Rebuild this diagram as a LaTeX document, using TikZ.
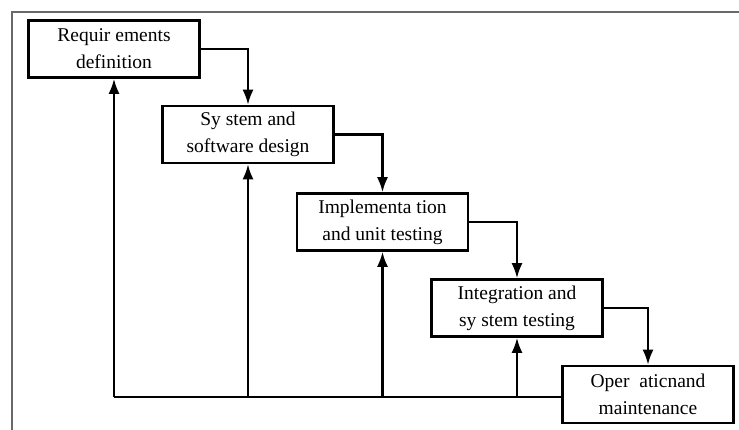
\documentclass[tikz,border=0pt]{standalone}
\usepackage{fontspec}
\setmainfont{Liberation Serif}
\usetikzlibrary{arrows.meta}
\definecolor{framegray}{RGB}{105,105,105}
\begin{document}
\begin{tikzpicture}[x=1pt,y=-1pt,
  box/.style={draw, line width=2.6pt, minimum width=171pt, minimum height=57pt, inner sep=0pt, align=center, font=\fontsize{19.5}{27}\selectfont},
  arr/.style={line width=2.2pt, -{Latex[length=15pt,width=11pt]}},
  ln/.style={line width=2.2pt}]
\useasboundingbox (0,0) rectangle (739,430);
\draw[framegray, line width=2pt] (12,430) -- (12,12) -- (739,12);
\node[box] (b1) at (114,49) {Requir ements\\definition};
\node[box] (b2) at (248,134.5) {Sy stem and\\software design};
\node[box] (b3) at (382.5,222) {Implementa tion\\and unit testing};
\node[box] (b4) at (517,308) {Integration and\\sy stem testing};
\node[box] (b5) at (648,394.5) {Oper\ \ aticnand\\maintenance};
\draw[arr] (b1.east) -| (b2.north);
\draw[arr] (b2.east) -| (b3.north);
\draw[arr] (b3.east) -| (b4.north);
\draw[arr] (b4.east) -| (b5.north);
\coordinate (bl) at (114,397);
\coordinate (br) at (b5.west |- bl);
\draw[ln] (bl) -- (br);
\draw[arr] (bl) -- (b1.south);
\draw[arr] (b2.south |- bl) -- (b2.south);
\draw[arr] (b3.south |- bl) -- (b3.south);
\draw[arr] (b4.south |- bl) -- (b4.south);
\end{tikzpicture}
\end{document}
